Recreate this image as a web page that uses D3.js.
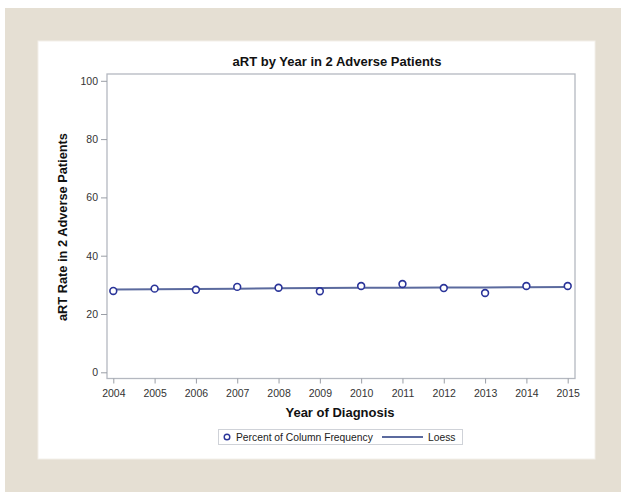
<!DOCTYPE html>
<html>
<head>
<meta charset="utf-8">
<script src="https://cdn.jsdelivr.net/npm/d3@7"></script>
<style>
  body { margin: 0; background: #fff; }
  svg { display: block; font-family: "Liberation Sans", Arial, sans-serif; }
</style>
</head>
<body>
<svg id="chart"></svg>
<script>
// data
const years = [2004, 2005, 2006, 2007, 2008, 2009, 2010, 2011, 2012, 2013, 2014, 2015];
const percent = [27.9, 28.7, 28.3, 29.3, 29.0, 27.8, 29.6, 30.3, 28.9, 27.2, 29.6, 29.6];
const loess = [28.4, 28.5, 28.6, 28.7, 28.8, 28.9, 29.0, 29.0, 29.1, 29.1, 29.2, 29.3];
const yTicks = [0, 20, 40, 60, 80, 100];

const width = 621, height = 492;
const svg = d3.select("#chart").attr("width", width).attr("height", height);

// beige frame + white panel
svg.append("rect").attr("x", 5).attr("y", 8).attr("width", width - 5).attr("height", height - 8)
  .attr("fill", "#e5dfd3");
svg.append("rect").attr("x", 38).attr("y", 41).attr("width", 557).attr("height", 418)
  .attr("fill", "#fff").attr("stroke", "#f3f0ea").attr("stroke-width", 1);

// plot area
const plotL = 107, plotR = 575, plotT = 74, plotB = 378.5;

const x = d3.scaleLinear().domain([2004, 2015]).range([113.3, 567.7]);
const y = d3.scaleLinear().domain([0, 100]).range([372.3, 80.8]);

svg.append("rect")
  .attr("x", plotL).attr("y", plotT)
  .attr("width", plotR - plotL).attr("height", plotB - plotT)
  .attr("fill", "none").attr("stroke", "#b4b8c0").attr("stroke-width", 1.3);

// x axis
const xAxis = svg.append("g")
  .attr("transform", `translate(0,${plotB})`)
  .call(d3.axisBottom(x).tickValues(years).tickFormat(d3.format("d")).tickSize(5).tickSizeOuter(0));
xAxis.select(".domain").remove();
xAxis.selectAll("line").attr("stroke", "#9a9ea6");
xAxis.selectAll("text").attr("font-size", 10.5).attr("fill", "#333").attr("dy", "1em")
  .attr("font-family", "Liberation Sans, Arial");

// y axis
const yAxis = svg.append("g")
  .attr("transform", `translate(${plotL},0)`)
  .call(d3.axisLeft(y).tickValues(yTicks).tickSize(6).tickSizeOuter(0));
yAxis.select(".domain").remove();
yAxis.selectAll("line").attr("stroke", "#9a9ea6");
yAxis.selectAll("text").attr("font-size", 10.5).attr("fill", "#333").attr("x", -9)
  .attr("font-family", "Liberation Sans, Arial");

// titles
svg.append("text").attr("x", 337).attr("y", 66).attr("text-anchor", "middle")
  .attr("font-size", 13).attr("font-weight", "bold").attr("fill", "#111")
  .text("aRT by Year in 2 Adverse Patients");

svg.append("text").attr("x", 340).attr("y", 417).attr("text-anchor", "middle")
  .attr("font-size", 13).attr("font-weight", "bold").attr("fill", "#111")
  .text("Year of Diagnosis");

svg.append("text").attr("transform", "translate(67,227) rotate(-90)")
  .attr("text-anchor", "middle")
  .attr("font-size", 12.8).attr("font-weight", "bold").attr("fill", "#111")
  .text("aRT Rate in 2 Adverse Patients");

// loess line
const line = d3.line().x((d, i) => x(years[i])).y(d => y(d));
svg.append("path").datum(loess)
  .attr("fill", "none").attr("stroke", "#5b6a9e").attr("stroke-width", 2)
  .attr("d", line);

// markers
svg.selectAll("circle.pt").data(percent).enter().append("circle")
  .attr("class", "pt")
  .attr("cx", (d, i) => x(years[i])).attr("cy", d => y(d))
  .attr("r", 3.4).attr("fill", "#fff").attr("stroke", "#2a3499").attr("stroke-width", 1.6);

// legend
const lg = svg.append("g");
lg.append("rect").attr("x", 218.5).attr("y", 429.5).attr("width", 244).attr("height", 15)
  .attr("fill", "#fff").attr("stroke", "#cfd2d8");
lg.append("circle").attr("cx", 227).attr("cy", 437).attr("r", 2.8)
  .attr("fill", "#fff").attr("stroke", "#2a3499").attr("stroke-width", 1.4);
lg.append("text").attr("x", 236).attr("y", 441).attr("font-size", 10.3).attr("fill", "#222")
  .text("Percent of Column Frequency");
lg.append("line").attr("x1", 382).attr("x2", 423).attr("y1", 437).attr("y2", 437)
  .attr("stroke", "#5b6a9e").attr("stroke-width", 2);
lg.append("text").attr("x", 428).attr("y", 441).attr("font-size", 10.3).attr("fill", "#222")
  .text("Loess");
</script>
</body>
</html>
